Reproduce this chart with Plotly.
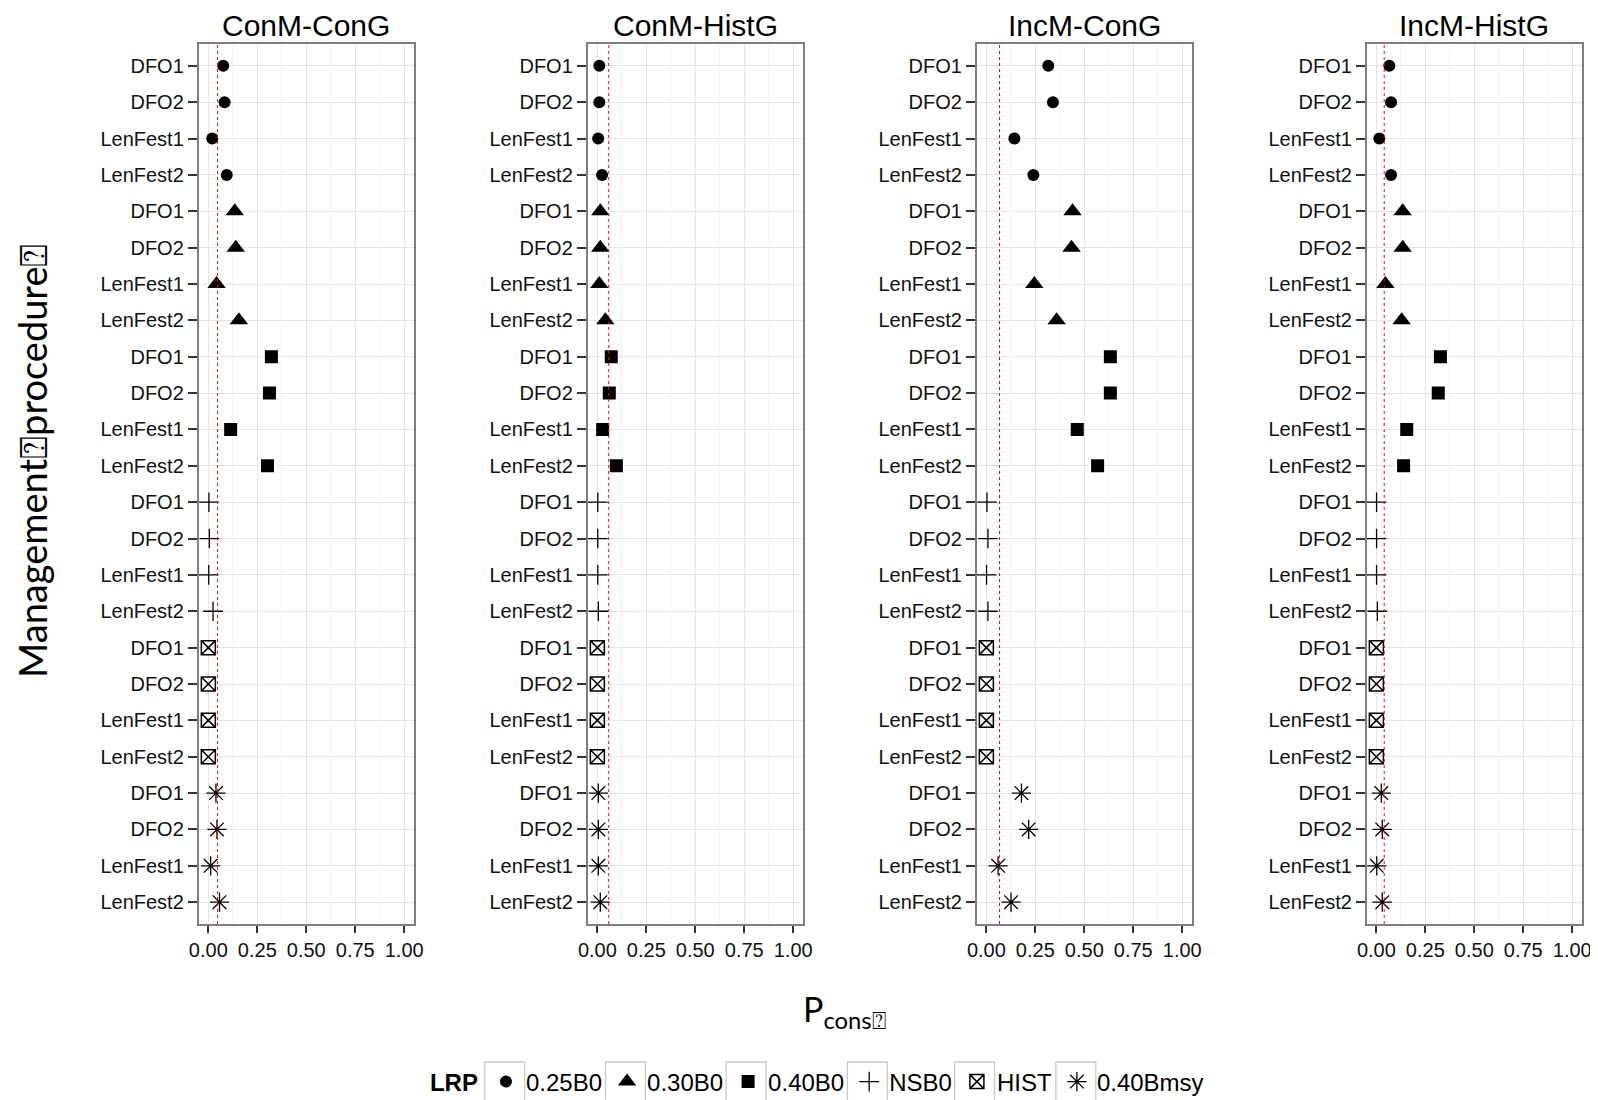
import plotly.graph_objects as go

# ---------------- data ----------------
panels = ["ConM-ConG", "ConM-HistG", "IncM-ConG", "IncM-HistG"]
procedures = ["DFO1", "DFO2", "LenFest1", "LenFest2"]
lrps = ["0.25B0", "0.30B0", "0.40B0", "NSB0", "HIST", "0.40Bmsy"]

# values per LRP (rows) x procedure (cols), one table per panel
conm_cong = [
    [0.076, 0.083, 0.020, 0.094],
    [0.135, 0.140, 0.042, 0.156],
    [0.322, 0.312, 0.114, 0.302],
    [0.003, 0.005, 0.002, 0.024],
    [0.000, 0.000, 0.000, 0.000],
    [0.039, 0.044, 0.012, 0.057],
]
conm_histg = [
    [0.010, 0.010, 0.004, 0.024],
    [0.015, 0.015, 0.010, 0.041],
    [0.071, 0.061, 0.027, 0.097],
    [0.002, 0.002, 0.002, 0.005],
    [0.000, 0.000, 0.000, 0.000],
    [0.005, 0.005, 0.005, 0.015],
]
incm_cong = [
    [0.316, 0.340, 0.143, 0.240],
    [0.440, 0.435, 0.245, 0.359],
    [0.633, 0.633, 0.464, 0.568],
    [0.003, 0.008, 0.001, 0.008],
    [0.000, 0.000, 0.000, 0.000],
    [0.179, 0.216, 0.060, 0.126],
]
incm_histg = [
    [0.066, 0.075, 0.015, 0.075],
    [0.134, 0.134, 0.046, 0.129],
    [0.327, 0.316, 0.155, 0.139],
    [0.001, 0.001, 0.001, 0.005],
    [0.000, 0.000, 0.000, 0.000],
    [0.025, 0.030, 0.002, 0.030],
]
panel_values = [conm_cong, conm_histg, incm_cong, incm_histg]
thresholds = [0.047, 0.058, 0.067, 0.040]

x_ticks = [0.0, 0.25, 0.5, 0.75, 1.0]
x_ticklabels = ["0.00", "0.25", "0.50", "0.75", "1.00"]

# ---------------- layout helpers ----------------
W, H = 1598, 1100
EFF_W = 1582.0


def px_x(p):
    return (p - 16) / EFF_W


def px_y(p):
    return 1 - (p - 7) / H


TICK_FONT = dict(family="Liberation Sans, Arial, sans-serif", size=20, color="#111111")

symbols = {
    "0.25B0": dict(symbol="circle", size=12, color="black"),
    "0.30B0": dict(symbol="triangle-up", size=16, color="black"),
    "0.40B0": dict(symbol="square", size=13, color="black"),
    "NSB0": dict(symbol="cross-thin-open", size=14, color="black", line=dict(color="black", width=1.3)),
    "HIST": dict(symbol="square-x-open", size=14, color="black", line=dict(color="black", width=1.5)),
    "0.40Bmsy": dict(symbol="asterisk-open", size=16, color="black", line=dict(color="black", width=1.3)),
}

panel_left_px = [197, 587, 977, 1368]
panel_w_px = 216
top_px, bottom_px = 43, 923

row_labels = [p for _ in lrps for p in procedures]
row_idx = list(range(len(row_labels)))

fig = go.Figure()

for pi, name in enumerate(panels):
    ax = "" if pi == 0 else str(pi + 1)
    vals = panel_values[pi]
    for li, lrp in enumerate(lrps):
        fig.add_trace(go.Scatter(
            x=vals[li],
            y=[li * len(procedures) + k for k in range(len(procedures))],
            mode="markers",
            marker=symbols[lrp],
            name=lrp,
            legendgroup=lrp,
            showlegend=(pi == 0),
            xaxis="x" + ax, yaxis="y" + ax,
            hovertemplate=lrp + "<br>%{x:.3f}<extra></extra>",
        ))
    fig.add_shape(type="line", xref="x" + ax, yref="y" + ax + " domain",
                  x0=thresholds[pi], x1=thresholds[pi], y0=0, y1=1,
                  line=dict(color="red", width=1, dash="dot"), layer="above")

    x0 = px_x(panel_left_px[pi])
    x1 = px_x(panel_left_px[pi] + panel_w_px)
    ydom = [px_y(bottom_px), px_y(top_px)]
    fig.update_layout(**{
        "xaxis" + ax: dict(
            domain=[x0, x1], anchor="y" + ax, range=[-0.05, 1.05],
            tickvals=x_ticks, ticktext=x_ticklabels,
            ticks="outside", ticklen=7, tickwidth=2, tickcolor="#333333",
            showgrid=True, gridcolor="#e5e5e5", gridwidth=1,
            minor=dict(dtick=0.125, tick0=0, showgrid=True, gridcolor="#f4f4f4", gridwidth=1),
            showline=True, mirror=True, linecolor="#7f7f7f", linewidth=1.5,
            zeroline=False, tickfont=TICK_FONT,
        ),
        "yaxis" + ax: dict(
            domain=ydom, anchor="x" + ax, range=[23.6, -0.6],
            tickvals=row_idx, ticktext=row_labels,
            ticks="outside", ticklen=9, tickwidth=2, tickcolor="#333333",
            showgrid=True, gridcolor="#e5e5e5", gridwidth=1,
            showline=True, mirror=True, linecolor="#7f7f7f", linewidth=1.5,
            zeroline=False, tickfont=TICK_FONT,
        ),
    })
    fig.add_annotation(text=name, xref="paper", yref="paper",
                       x=px_x(panel_left_px[pi] + panel_w_px / 2), y=px_y(24),
                       xanchor="center", yanchor="middle", showarrow=False,
                       font=dict(family="Liberation Sans, Arial, sans-serif", size=30, color="black"))

# axis titles
fig.add_annotation(text="Management\u2370procedure\u2370", xref="paper", yref="paper",
                   x=px_x(30), y=px_y(460), textangle=-90, showarrow=False,
                   xanchor="center", yanchor="middle",
                   font=dict(family="Lato, Open Sans, sans-serif", size=38, color="black"))
fig.add_annotation(text="P<sub>cons\u2370</sub>", xref="paper", yref="paper",
                   x=px_x(845), y=px_y(1010), showarrow=False,
                   xanchor="center", yanchor="middle",
                   font=dict(family="Lato, Open Sans, sans-serif", size=34, color="black"))

# legend key boxes (ggplot-style key background)
key_box_left = [484, 605, 726, 847.5, 955, 1056.5]
for bx in key_box_left:
    fig.add_shape(type="rect", xref="paper", yref="paper",
                  x0=px_x(bx), x1=px_x(bx + 40), y0=px_y(1101), y1=px_y(1061),
                  line=dict(color="#c8c8c8", width=1.3), fillcolor="white", layer="below")

LEG_FONT = "Liberation Sans, Arial, sans-serif"
fig.update_layout(
    width=W, height=H,
    margin=dict(l=0, r=0, t=0, b=0),
    paper_bgcolor="white", plot_bgcolor="white",
    showlegend=True,
    legend=dict(
        orientation="h", x=px_x(427), y=px_y(1081), xanchor="left", yanchor="middle",
        title=dict(text="<b>LRP</b>", side="left", font=dict(family=LEG_FONT, size=24, color="black")),
        font=dict(family=LEG_FONT, size=24, color="black"),
        itemwidth=30, tracegroupgap=0, bgcolor="rgba(0,0,0,0)",
    ),
)

fig.write_html("out.html")
